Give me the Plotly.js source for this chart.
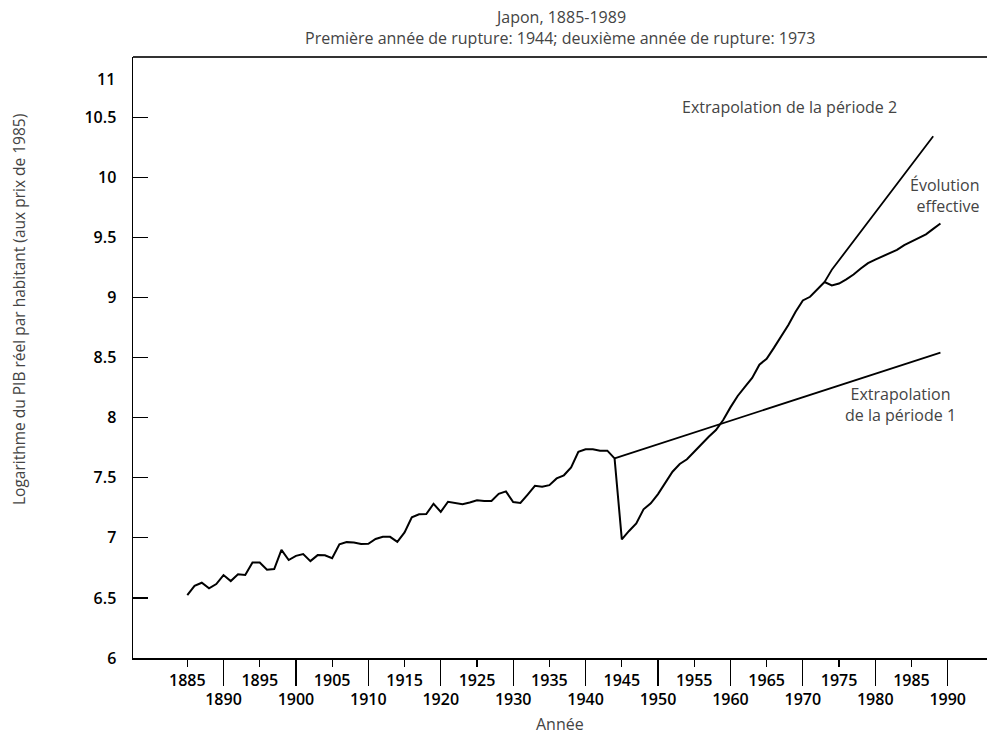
<!DOCTYPE html>
<html>
<head>
<meta charset="utf-8">
<script src="https://cdn.plot.ly/plotly-3.0.1.min.js"></script>
<style>html,body{margin:0;padding:0;background:#fff;}#chart{width:987px;height:735px;}</style>
</head>
<body>
<div id="chart"></div>
<script>
const years = [1885,1886,1887,1888,1889,1890,1891,1892,1893,1894,1895,1896,1897,1898,1899,
1900,1901,1902,1903,1904,1905,1906,1907,1908,1909,1910,1911,1912,1913,1914,1915,1916,1917,1918,1919,
1920,1921,1922,1923,1924,1925,1926,1927,1928,1929,1930,1931,1932,1933,1934,1935,1936,1937,1938,1939,
1940,1941,1942,1943,1944,1945,1946,1947,1948,1949,1950,1951,1952,1953,1954,1955,1956,1957,1958,1959,
1960,1961,1962,1963,1964,1965,1966,1967,1968,1969,1970,1971,1972,1973,1974,1975,1976,1977,1978,1979,
1980,1981,1982,1983,1984,1985,1986,1987,1988,1989];
const logGdp = [6.524,6.600,6.626,6.580,6.615,6.690,6.640,6.696,6.690,6.795,6.795,6.734,6.740,6.900,6.815,
6.850,6.865,6.806,6.856,6.854,6.830,6.945,6.964,6.960,6.948,6.950,6.990,7.008,7.008,6.967,7.045,7.170,7.196,7.197,7.283,
7.216,7.300,7.288,7.280,7.294,7.313,7.307,7.307,7.366,7.386,7.297,7.290,7.360,7.432,7.424,7.438,7.494,7.520,7.585,7.715,
7.737,7.737,7.725,7.725,7.661,6.987,7.057,7.120,7.237,7.287,7.364,7.453,7.550,7.614,7.653,7.716,7.780,7.840,7.897,7.980,
8.085,8.180,8.255,8.330,8.440,8.490,8.580,8.670,8.770,8.880,8.975,9.005,9.070,9.128,9.100,9.115,9.150,9.190,9.240,9.285,
9.315,9.340,9.365,9.395,9.435,9.466,9.490,9.525,9.570,9.615];
const extrap1Years = [1944, 1989];
const extrap1Values = [7.661, 8.541];
const extrap2Years = [1973, 1974, 1988];
const extrap2Values = [9.128, 9.23, 10.34];

const yTickVals = [6, 6.5, 7, 7.5, 8, 8.5, 9, 9.5, 10, 10.5];
const yTickText = ['6','6.5','7','7.5','8','8.5','9','9.5','10','10.5'];
const xOddTicks = [1885,1895,1905,1915,1925,1935,1945,1955,1965,1975,1985];
const xEvenTicks = [1890,1900,1910,1920,1930,1940,1950,1960,1970,1980,1990];

const titleText = 'Japon, 1885-1989';
const subtitleText = 'Première année de rupture: 1944; deuxième année de rupture: 1973';
const xTitle = 'Année';
const yTitle = 'Logarithme du PIB réel par habitant (aux prix de 1985)';

const traces = [
  {x: years, y: logGdp, type:'scatter', mode:'lines', line:{color:'#000', width:2}},
  {x: extrap1Years, y: extrap1Values, type:'scatter', mode:'lines', line:{color:'#000', width:1.8}},
  {x: extrap2Years, y: extrap2Values, type:'scatter', mode:'lines', line:{color:'#000', width:1.8}},
  {x: [xEvenTicks[0]], y: [null], xaxis:'x2', type:'scatter', mode:'lines', showlegend:false}
];

const tickFont = {family:'Open Sans, DejaVu Sans, sans-serif', size:16, color:'#000', weight:600};
const textFont = {family:'Open Sans, Roboto, sans-serif', size:16, color:'#444', weight:400};
const yTitleFont = {family:'Open Sans, Roboto, sans-serif', size:15.5, color:'#444', weight:400};
const xRange = [1877.5, 1995.43];

const layout = {
  width: 987, height: 735,
  margin: {l:133, r:0, t:57, b:77, pad:0},
  showlegend: false,
  paper_bgcolor:'#fff', plot_bgcolor:'#fff',
  xaxis: {range: xRange, showgrid:false, zeroline:false, showline:true, linecolor:'#000', linewidth:1.5,
          tickmode:'array', tickvals: xOddTicks, ticktext: xOddTicks.map(String),
          ticks:'outside', ticklen:7, tickwidth:1.2, tickcolor:'#000', tickfont: tickFont},
  xaxis2: {range: xRange, overlaying:'x', anchor:'y', side:'bottom', showgrid:false, zeroline:false, showline:false,
          tickmode:'array', tickvals: xEvenTicks, ticktext: xEvenTicks.map(String),
          ticks:'outside', ticklen:27, tickwidth:1.2, tickcolor:'#000', tickfont: tickFont},
  yaxis: {range:[6, 11], showgrid:false, zeroline:false, showline:true, linecolor:'#000', linewidth:1.5,
          tickmode:'array', tickvals: yTickVals, ticktext: yTickText,
          ticks:'inside', ticklen:15, tickwidth:1.2, tickcolor:'#000', tickfont: tickFont, ticklabelstandoff: 12},
  shapes: [
    {type:'line', xref:'paper', yref:'paper', x0:0, x1:1, y0:1, y1:1, line:{color:'#333', width:2}}
  ],
  annotations: [
    {xref:'paper', yref:'paper', x:0.5, y:1, yshift:40, xanchor:'center', yanchor:'middle', text:titleText, showarrow:false, font:textFont},
    {xref:'paper', yref:'paper', x:0.5, y:1, yshift:19, xanchor:'center', yanchor:'middle', text:subtitleText, showarrow:false, font:textFont},
    {xref:'paper', yref:'paper', x:0.5, y:0, yshift:-66, xanchor:'center', yanchor:'middle', text:xTitle, showarrow:false, font:textFont},
    {xref:'paper', yref:'paper', x:0, y:0.579, xshift:-114, xanchor:'center', yanchor:'middle', textangle:-90, text:yTitle, showarrow:false, font:yTitleFont},
    {xref:'paper', yref:'y', x:0, y:10.82, xanchor:'right', yanchor:'middle', xshift:-16, text:'11', showarrow:false, font: tickFont},
    {xref:'x', yref:'y', x:1968.2, y:10.58, xanchor:'center', yanchor:'middle', text:'Extrapolation de la période 2', showarrow:false, font:textFont},
    {xref:'paper', yref:'y', x:1, y:9.844, xanchor:'right', yanchor:'middle', xshift:-5, align:'right', text:'Évolution<br>effective', showarrow:false, font:textFont},
    {xref:'x', yref:'y', x:1983.5, y:8.105, xanchor:'center', yanchor:'middle', align:'center', text:'Extrapolation<br>de la période 1', showarrow:false, font:textFont}
  ]
};

Plotly.newPlot('chart', traces, layout, {displayModeBar:false, staticPlot:true});
</script>
</body>
</html>
